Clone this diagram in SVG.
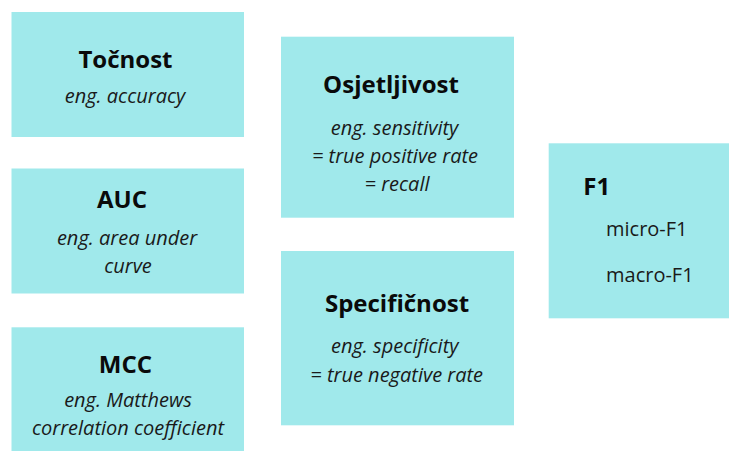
<svg xmlns="http://www.w3.org/2000/svg" width="729" height="451" viewBox="0 0 729 451">
<style>
.box{fill:#a0e9eb}
.t{font-family:"Open Sans",sans-serif;font-weight:700;font-size:24px;fill:#0a0a0a;text-anchor:middle}
.s{font-family:"Open Sans",sans-serif;font-style:italic;font-size:20px;fill:#1a1a1a;text-anchor:middle}
.r{font-family:"Open Sans",sans-serif;font-size:20px;fill:#1a1a1a}
</style>
<rect width="729" height="451" fill="#ffffff"/>
<g id="connectors"></g>
<g id="tocnost">
<rect class="box" x="11.5" y="12" width="232.5" height="125"/>
<text class="t" x="125.5" y="68.3">Točnost</text>
<text class="s" x="125" y="103">eng. accuracy</text>
</g>
<g id="auc">
<rect class="box" x="11.5" y="168.5" width="232.5" height="125"/>
<text class="t" x="122" y="208.3">AUC</text>
<text class="s" x="127" y="245">eng. area under</text>
<text class="s" x="128" y="273.3">curve</text>
</g>
<g id="mcc">
<rect class="box" x="11.5" y="327.3" width="232.5" height="124"/>
<text class="t" x="125.4" y="373.3">MCC</text>
<text class="s" x="128" y="406.7">eng. Matthews</text>
<text class="s" x="128" y="435">correlation coefficient</text>
</g>
<g id="osjetljivost">
<rect class="box" x="281" y="36.7" width="233" height="181"/>
<text class="t" x="391" y="92.7">Osjetljivost</text>
<text class="s" x="394.5" y="135">eng. sensitivity</text>
<text class="s" x="395" y="163.3">= true positive rate</text>
<text class="s" x="397" y="191">= recall</text>
</g>
<g id="specificnost">
<rect class="box" x="281" y="251" width="233" height="174.3"/>
<text class="t" x="397" y="311.7">Specifičnost</text>
<text class="s" x="394.7" y="353.3">eng. specificity</text>
<text class="s" x="396.7" y="381.7">= true negative rate</text>
</g>
<g id="f1">
<rect class="box" x="548.7" y="143.3" width="180.3" height="175"/>
<text class="t" x="583.3" y="195" style="text-anchor:start">F1</text>
<text class="r" x="606" y="236">micro-F1</text>
<text class="r" x="606" y="281.7">macro-F1</text>
</g>
</svg>
